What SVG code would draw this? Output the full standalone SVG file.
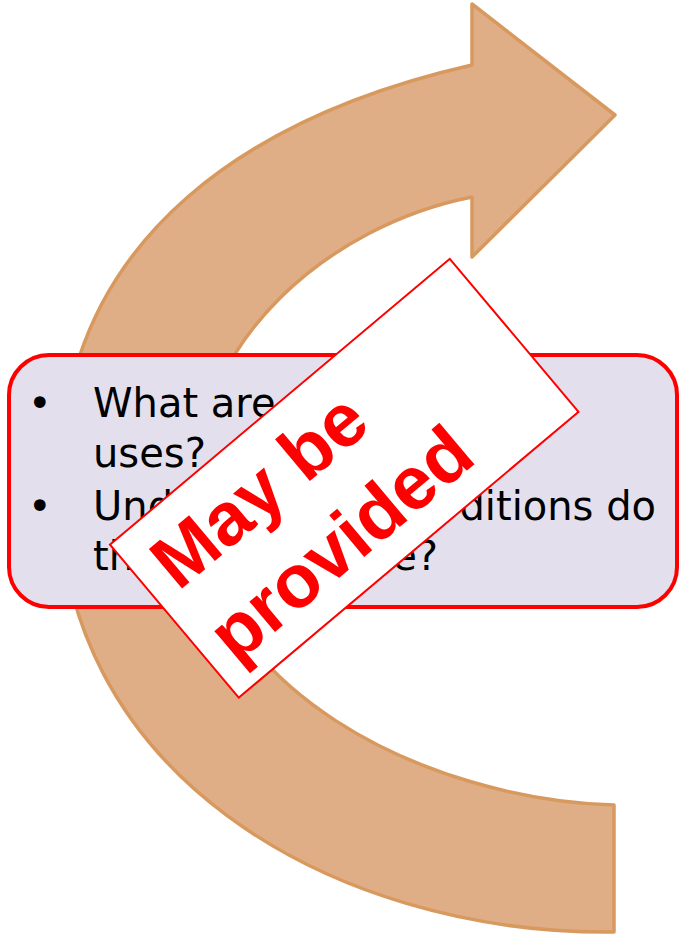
<svg xmlns="http://www.w3.org/2000/svg" width="679" height="934" viewBox="0 0 679 934">
<style>
.arrow{fill:#E0AE86;stroke:#D8995F;stroke-width:3.5;stroke-linejoin:round}
.box{fill:#E4DFEC;stroke:#FF0000;stroke-width:4}
.t{font-family:"DejaVu Sans",Verdana,sans-serif;font-size:40px;fill:#000}
.stamp{fill:#FFFFFF;stroke:#FF0000;stroke-width:2}
.st{font-family:"Liberation Sans",Arial,sans-serif;font-weight:bold;font-size:75px;fill:#FF0000}
</style>
<rect width="679" height="934" fill="#FFFFFF"/>
<g id="curved-arrow">
<path class="arrow" d="M472,65 L472,4 L615,115 L472,257 L472,197 C330,225 195,340 195,490 C195,690 430,800 614,805 L614,932 C330,935 52,770 60,480 C62,230 262,113 472,65 Z"/>
</g>
<g id="question-box">
<rect class="box" x="9" y="355" width="668" height="252" rx="40" ry="40"/>
<text class="t" x="28" y="417">•</text>
<text class="t" x="93" y="417">What are</text>
<text class="t" x="93" y="467">uses?</text>
<text class="t" x="28" y="520">•</text>
<text class="t" x="93" y="520">Und</text>
<text class="t" x="656" y="520" text-anchor="end">ditions do</text>
<text class="t" x="93" y="570">th</text>
<text class="t" x="438" y="570" text-anchor="end">e?</text>
</g>
<g id="stamp" transform="translate(344.25,478.25) rotate(-40.07)">
<rect class="stamp" x="-222" y="-100" width="444" height="200"/>
<text class="st" x="-200" y="-20">May be</text>
<text class="st" x="-203" y="73">provided</text>
</g>
</svg>
